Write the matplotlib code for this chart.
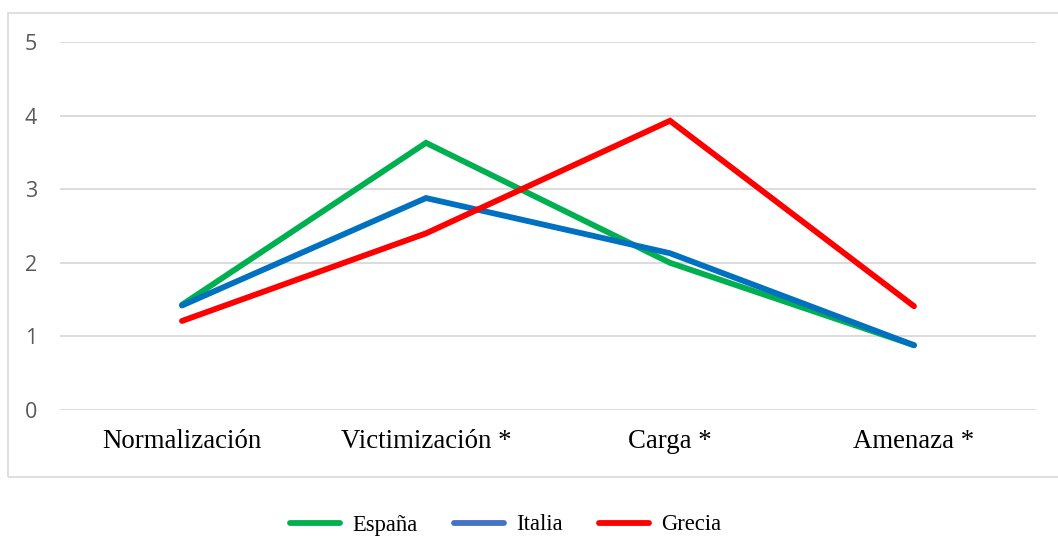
import matplotlib
matplotlib.use("Agg")
import matplotlib.pyplot as plt
from matplotlib.lines import Line2D
from matplotlib.patches import Rectangle

categories = ["Normalización", "Victimización *", "Carga *", "Amenaza *"]
espana = [1.43, 3.63, 2.00, 0.88]
italia = [1.42, 2.88, 2.13, 0.88]
grecia = [1.21, 2.40, 3.93, 1.41]
series_names = ["España", "Italia", "Grecia"]
line_colors = ["#00B050", "#0070C0", "#FF0000"]
legend_colors = ["#00B050", "#4472C4", "#FF0000"]
yticks = [0, 1, 2, 3, 4, 5]

W, H = 1058, 538
fig = plt.figure(figsize=(W / 100, H / 100), dpi=100)
ax = fig.add_axes([60 / W, 1 - 410 / H, (1036 - 60) / W, (410 - 42) / H])

x = list(range(len(categories)))
for vals, c in zip([espana, italia, grecia], line_colors):
    ax.plot(x, vals, color=c, lw=4.2, solid_capstyle="round", solid_joinstyle="miter", zorder=3)

ax.set_xlim(-0.5, len(categories) - 0.5)
ax.set_ylim(0, 5)
ax.set_yticks(yticks)
ax.set_yticklabels([str(v) for v in yticks], fontsize=15.5, color="#595959", family="Open Sans")
ax.set_xticks(x)
ax.set_xticklabels(categories, fontsize=19.3, family="Liberation Serif", color="black")
ax.tick_params(axis="y", length=0, pad=16.5)
ax.tick_params(axis="x", length=0, pad=14)
ax.grid(axis="y", color="#D9D9D9", lw=1.3)
ax.set_axisbelow(True)
for s in ax.spines.values():
    s.set_visible(False)

handles = [Line2D([0], [0], color=c, lw=4.2, solid_capstyle="round") for c in legend_colors]
fig.legend(handles, series_names, loc="center", bbox_to_anchor=(506 / W, 1 - 525 / H),
           ncol=3, frameon=False, prop={"family": "Liberation Serif", "size": 16.3},
           handlelength=2.2, columnspacing=1.6, handletextpad=0.55)

fig.add_artist(Rectangle((8 / W, 1 - 477 / H), 1.1, (477 - 13) / H, transform=fig.transFigure,
                         fill=False, edgecolor="#D9D9D9", lw=1.2))

fig.savefig("out.png", dpi=100)
